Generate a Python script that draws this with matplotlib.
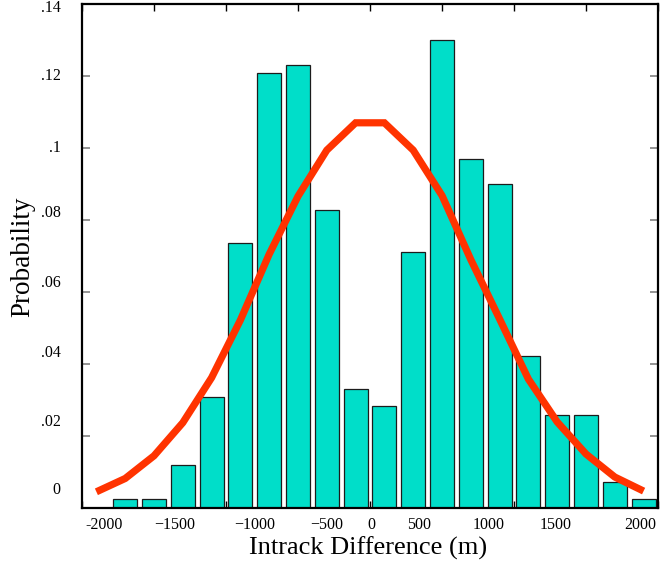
import matplotlib.pyplot as plt

# Histogram of intrack differences (bin centres in metres) and fitted normal curve
bin_centers = [-1700, -1500, -1300, -1100, -900, -700, -500, -300, -100,
               100, 300, 500, 700, 900, 1100, 1300, 1500, 1700, 1900]
probabilities = [0.0025, 0.0025, 0.0119, 0.0308, 0.0736, 0.1208, 0.1231, 0.0828, 0.0331,
                 0.0283, 0.0711, 0.1300, 0.0969, 0.0900, 0.0422, 0.0258, 0.0258, 0.0072, 0.0025]

curve_x = [-1900, -1700, -1500, -1300, -1100, -900, -700, -500, -300, -100,
           100, 300, 500, 700, 900, 1100, 1300, 1500, 1700, 1900]
curve_y = [0.0045, 0.0082, 0.0145, 0.0237, 0.0362, 0.0522, 0.0705, 0.0866, 0.0994, 0.1070,
           0.1070, 0.0994, 0.0868, 0.0690, 0.0525, 0.0358, 0.0239, 0.0150, 0.0086, 0.0047]

x_ticks = [-2000, -1500, -1000, -500, 0, 500, 1000, 1500, 2000]
x_tick_labels = ['-2000', '\u22121500', '\u22121000', '\u2212500', '0', '500', '1000', '1500', '2000']
y_ticks = [0, 0.02, 0.04, 0.06, 0.08, 0.10, 0.12, 0.14]
y_tick_labels = ['0', '.02', '.04', '.06', '.08', '.1', '.12', '.14']

# the original labels sit a little off their tick marks
x_label_pos = [-1850, -1355, -800, -300, 10, 340, 825, 1290, 1875]
y_label_pos = [0.005, 0.0239, 0.0431, 0.0625, 0.0819, 0.1, 0.12, 0.139]

plt.rcParams['font.family'] = ['Liberation Serif', 'DejaVu Serif']

fig = plt.figure(figsize=(6.72, 5.65), dpi=100)
ax = fig.add_axes([82 / 672, 1 - 508 / 565, 576 / 672, 504 / 565])

ax.bar(bin_centers, probabilities, width=166, color='#00DEC9',
       edgecolor='#1c1c1c', linewidth=0.9)
ax.plot(curve_x, curve_y, color='#FF3300', linewidth=5.2,
        solid_capstyle='butt', solid_joinstyle='miter')

ax.set_xlim(-2000, 2000)
ax.set_ylim(0, 0.14)
ax.set_axisbelow(True)

for side in ['left', 'right', 'top', 'bottom']:
    ax.spines[side].set_linewidth(1.6)
    ax.spines[side].set_color('black')

ax.set_xticks(x_ticks)
ax.set_yticks(y_ticks)
ax.tick_params(axis='x', direction='in', length=5, width=1, color='black',
               top=True, labelbottom=False)
ax.tick_params(axis='y', direction='in', length=6, width=1.2, color='#808080',
               right=True, labelleft=False)

for xp, lab in zip(x_label_pos, x_tick_labels):
    ax.text(xp, -0.0048, lab, ha='center', va='center', fontsize=11.5,
            clip_on=False)
for yp, lab in zip(y_label_pos, y_tick_labels):
    ax.text(-2150, yp, lab, ha='right', va='center', fontsize=11.5,
            clip_on=False)

fig.text(368 / 672, 1 - 548 / 565, 'Intrack Difference (m)', ha='center',
         va='center', fontsize=19)
fig.text(23 / 672, 1 - 257 / 565, 'Probability', ha='center', va='center',
         rotation=90, fontsize=19.5)

plt.savefig('out.png', dpi=100)
